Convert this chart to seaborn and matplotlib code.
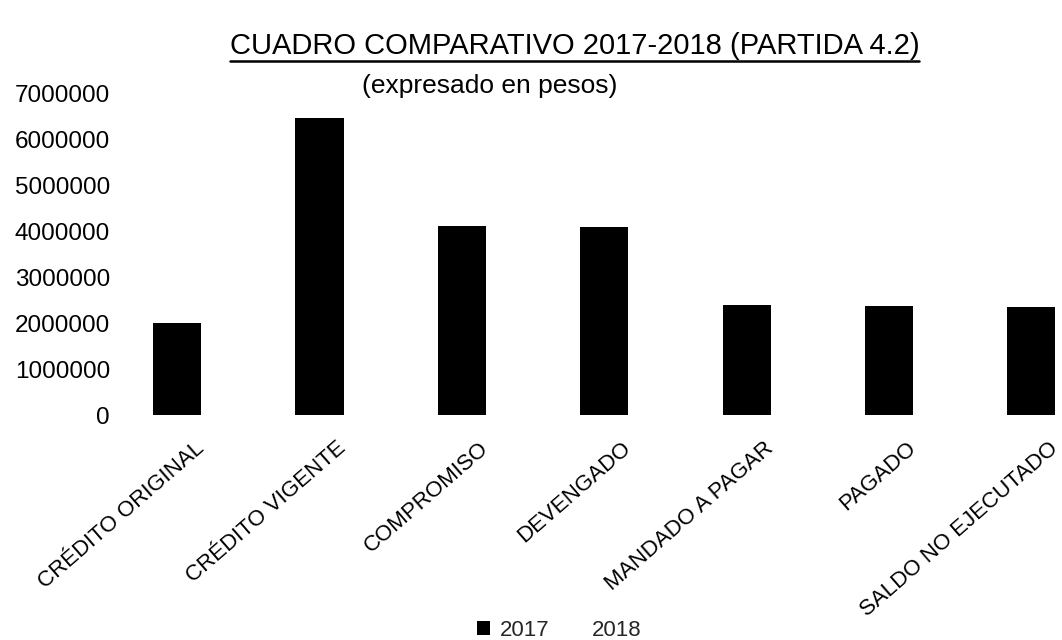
import matplotlib
matplotlib.use("Agg")
import matplotlib.pyplot as plt
from matplotlib.patches import Patch
from matplotlib.lines import Line2D
import numpy as np
import pandas as pd
import seaborn as sns

# Budget stages for item 4.2 (amounts in pesos)
categories = ["CRÉDITO ORIGINAL", "CRÉDITO VIGENTE", "COMPROMISO", "DEVENGADO",
              "MANDADO A PAGAR", "PAGADO", "SALDO NO EJECUTADO"]
values_2017 = [2000000, 6470000, 4110000, 4080000, 2390000, 2380000, 2340000]
values_2018 = [np.nan, np.nan, np.nan, np.nan, np.nan, np.nan, np.nan]
years = ["2017", "2018"]
ytick_values = [0, 1000000, 2000000, 3000000, 4000000, 5000000, 6000000, 7000000]

title_text = "CUADRO COMPARATIVO 2017-2018 (PARTIDA 4.2)"
subtitle_text = "(expresado en pesos)"

sns.set_theme(style="white")
plt.rcParams['font.family'] = ['Liberation Sans', 'DejaVu Sans']

df = pd.DataFrame({
    "categoria": categories * 2,
    "anio": [years[0]] * len(categories) + [years[1]] * len(categories),
    "monto": values_2017 + values_2018,
})

W, H = 1062, 640
fig = plt.figure(figsize=(W / 100, H / 100), dpi=100)
left_px, right_px, top_px, bottom_px = 130, 1062, 93.3, 415
ax = fig.add_axes([left_px / W, 1 - bottom_px / H,
                   (right_px - left_px) / W, (bottom_px - top_px) / H])

sns.barplot(data=df, x="categoria", y="monto", hue="anio", hue_order=years,
            order=categories,
            palette={"2017": "black", "2018": "white"}, saturation=1,
            width=0.675, dodge=True, errorbar=None, legend=False,
            linewidth=0, ax=ax)

ax.set_xlim(-0.5, 6.047)
ax.set_ylim(0, 7000000)
ax.set_yticks(ytick_values)
ax.set_yticklabels([str(v) for v in ytick_values], fontsize=17.5, color="black")
ax.tick_params(axis="y", length=0, pad=14.4)
ax.tick_params(axis="x", length=0, pad=22)
ax.set_xticks(range(len(categories)))
ax.set_xticklabels(categories, fontsize=16, color="black",
                   rotation=41, ha="right", rotation_mode="anchor", va="center")
ax.set_xlabel("")
ax.set_ylabel("")
ax.grid(False)
sns.despine(ax=ax, left=True, bottom=True)

title = fig.text(574.5 / W, 1 - 46 / H, title_text,
                 fontsize=21, ha="center", va="center", color="black")
fig.text(490 / W, 1 - 85.7 / H, subtitle_text,
         fontsize=19, ha="center", va="center", color="black")

# underline the title
fig.canvas.draw()
bb = title.get_window_extent(renderer=fig.canvas.get_renderer())
uy = bb.y0 - 1
fig.add_artist(Line2D([bb.x0 / W, bb.x1 / W], [uy / H, uy / H],
                      transform=fig.transFigure, color="black", lw=1.8))

handles = [Patch(facecolor="black", edgecolor="none"),
           Patch(facecolor="none", edgecolor="none")]
fig.legend(handles, years, loc="center", bbox_to_anchor=(559 / W, 1 - 630 / H),
           ncol=2, frameon=False, fontsize=16, handlelength=0.59,
           handleheight=0.59, handletextpad=0.45, columnspacing=0.85,
           borderpad=0, borderaxespad=0)

fig.savefig("out.png", dpi=100, facecolor="white")
